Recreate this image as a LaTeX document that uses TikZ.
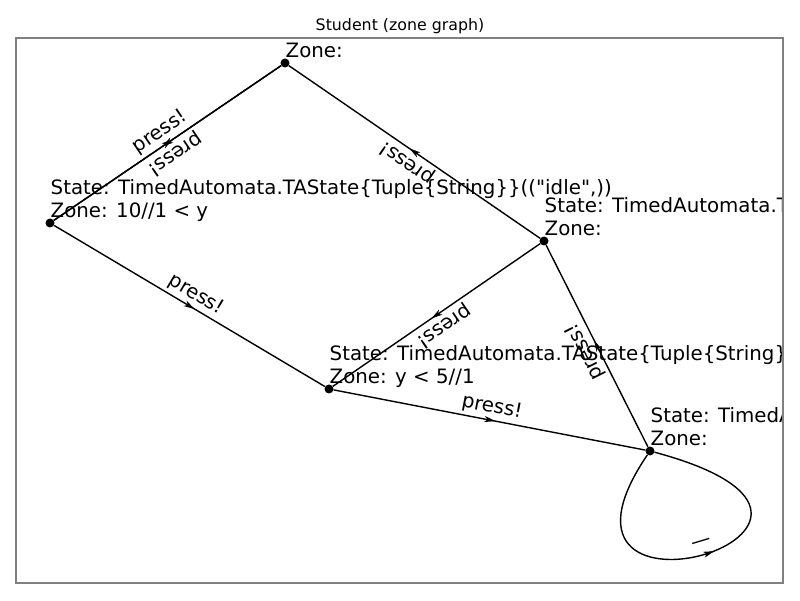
\documentclass[tikz,border=0pt]{standalone}
\usepackage{fontspec}
\setmainfont{DejaVu Sans}
\usetikzlibrary{arrows.meta,decorations.markings}

\tikzset{
  zonedot/.style={circle,fill=black,inner sep=0pt,minimum size=9pt},
  zonetext/.style={anchor=south west,align=left,inner sep=0pt,text depth=0pt,
    font=\fontsize{19.8}{23}\selectfont},
  trans/.style={line width=1.4pt,postaction={decorate},
    decoration={markings,mark=at position 0.5 with {\arrow[xshift=6pt]{Stealth[length=11pt,width=6pt,inset=3pt]}}}},
  act/.style={sloped,allow upside down,above,inner sep=3pt,text depth=4pt,
    font=\fontsize{19.8}{23}\selectfont}
}

\begin{document}
\begin{tikzpicture}[x=1pt,y=1pt]
  \useasboundingbox (0,0) rectangle (800,600);
  \node[font=\fontsize{15.8}{19}\selectfont,anchor=base] (title) at (400,569) {Student (zone graph)};

  \begin{scope}
    \clip (16,17) rectangle (783,562);

    % states
    \begin{scope}[every node/.style=zonedot]
      \node (z1) at (285,537) {};
      \node (z2) at (50,377) {};
      \node (z3) at (544,359) {};
      \node (z4) at (329,211) {};
      \node (z5) at (650,149) {};
    \end{scope}

    % zone texts
    \node[zonetext] (z1l) at ([xshift=0.5pt,yshift=5pt]z1.center) {Zone:};
    \node[zonetext] (z2l) at ([xshift=0.5pt,yshift=5pt]z2.center)
      {State: TimedAutomata.TAState\{Tuple\{String\}\}((\textquotedbl idle\textquotedbl,))\\Zone: 10//1 < y};
    \node[zonetext] (z3l) at ([xshift=0.5pt,yshift=5pt]z3.center)
      {State: TimedAutomata.TA\\Zone:};
    \node[zonetext] (z4l) at ([xshift=0.5pt,yshift=5pt]z4.center)
      {State: TimedAutomata.TAState\{Tuple\{String\}\}\\Zone: y < 5//1};
    \node[zonetext] (z5l) at ([xshift=0.5pt,yshift=5pt]z5.center)
      {State: TimedAutomata\\Zone:};

    % transitions
    \begin{scope}
      \draw[trans] (z2) -- node[act] {press!} (z1);
      \draw[trans] (z1) -- node[act] {press!} (z2);
      \draw[trans] (z3) -- node[act] {press!} (z1);
      \draw[trans] (z2) -- node[act] {press!} (z4);
      \draw[trans] (z3) -- node[act] {press!} (z4);
      \draw[trans] (z5) -- node[act] {press!} (z3);
      \draw[trans] (z4) -- node[act] {press!} (z5);
      \draw[trans] (z5) .. controls (515,-50) and (930,74) .. node[act] {—} (z5);
    \end{scope}
  \end{scope}

  \draw[black!50,line width=1.5pt] (16,17) rectangle (783,562);
\end{tikzpicture}
\end{document}
